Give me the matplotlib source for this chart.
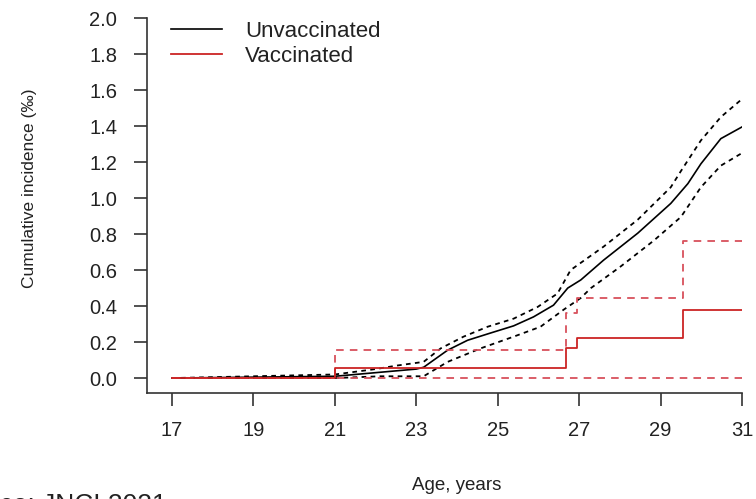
import matplotlib
matplotlib.use("Agg")
import matplotlib.pyplot as plt

plt.rcParams['font.family'] = ['Liberation Sans', 'DejaVu Sans']

# vaccinated (step function)
vac_age = [17, 21, 26.68, 26.95, 29.56, 31]
vac_est = [0, 0.055, 0.165, 0.22, 0.38, 0.38]
vac_hi = [0, 0.155, 0.36, 0.445, 0.76, 0.76]
vac_lo = [0, 0, 0, 0, 0, 0]

# unvaccinated
unvac_age = [17, 21, 21.5, 22, 22.5, 23, 23.18, 23.77, 24.26, 24.82, 25.39,
             25.88, 26.37, 26.72, 27.04, 27.6, 28.44, 29.25, 29.67, 29.99,
             30.48, 31.0]
unvac_est = [0, 0.01, 0.02, 0.03, 0.04, 0.05, 0.06, 0.155, 0.21, 0.25, 0.29,
             0.34, 0.405, 0.5, 0.545, 0.655, 0.805, 0.97, 1.08, 1.19, 1.33,
             1.395]
hi_age = [17, 21, 22, 22.54, 23.18, 23.6, 24.16, 24.75, 25.39, 25.98, 26.47,
          26.79, 27.6, 28.44, 29.25, 29.5, 29.99, 30.48, 31]
hi_val = [0, 0.02, 0.05, 0.07, 0.09, 0.165, 0.23, 0.285, 0.33, 0.395, 0.47,
          0.6, 0.73, 0.88, 1.06, 1.15, 1.32, 1.45, 1.55]
lo_age = [17, 21, 22.12, 23.18, 23.77, 24.58, 25.39, 26.05, 26.62, 27.04,
          27.29, 28.02, 28.84, 29.5, 29.99, 30.48, 31]
lo_val = [0, 0, 0.01, 0.01, 0.09, 0.165, 0.23, 0.285, 0.38, 0.445, 0.5,
          0.62, 0.765, 0.895, 1.06, 1.18, 1.25]

xticks = [17, 19, 21, 23, 25, 27, 29, 31]
yticks = [0.0, 0.2, 0.4, 0.6, 0.8, 1.0, 1.2, 1.4, 1.6, 1.8, 2.0]

red = '#cc2424'
red_d = '#d8505c'
txt = '#222222'

fig = plt.figure(figsize=(7.56, 4.99), dpi=100)
ax = fig.add_axes([0.1944, 0.2124, 0.7871, 0.7515])

ax.plot(hi_age, hi_val, color='black', lw=1.3, dashes=(2.6, 2.4))
ax.plot(lo_age, lo_val, color='black', lw=1.3, dashes=(2.6, 2.4))
ax.plot(unvac_age, unvac_est, color='black', lw=1.2, label='Unvaccinated')

ax.step(vac_age, vac_hi, where='post', color=red_d, lw=1.3, dashes=(4.2, 3.4))
ax.step(vac_age, vac_lo, where='post', color=red_d, lw=1.3, dashes=(4.2, 3.4))
ax.step(vac_age, vac_est, where='post', color=red, lw=1.3, label='Vaccinated')

ax.set_xlim(16.385, 31)
ax.set_ylim(-0.083, 2.0)
ax.set_xticks(xticks)
ax.set_yticks(yticks)
ax.set_yticklabels(['%.1f' % v for v in yticks])

for s in ['top', 'right']:
    ax.spines[s].set_visible(False)
for s in ['left', 'bottom']:
    ax.spines[s].set_color('#333333')
    ax.spines[s].set_linewidth(1.2)
ax.tick_params(axis='both', direction='out', length=9.4, width=1.2,
               color='#333333', labelsize=14.5, labelcolor=txt)
ax.tick_params(axis='y', pad=12)
ax.tick_params(axis='x', pad=11)

ax.legend(loc='upper left', bbox_to_anchor=(0.04, 0.993), frameon=False,
          fontsize=16, handlelength=2.3, handletextpad=1.05,
          labelspacing=0.2, borderpad=0, borderaxespad=0, labelcolor=txt)

fig.text(30 / 756, 1 - 188 / 499, 'Cumulative incidence (\u2030)', rotation=90,
         ha='center', va='center', fontsize=12.5, color=txt)
fig.text(457 / 756, 1 - 485 / 499, 'Age, years', ha='center', va='center',
         fontsize=13.5, color=txt)
fig.text(167 / 756, -0.026, 'Source: JNCI 2021', ha='right', va='baseline',
         fontsize=19, color=txt)

fig.savefig('out.png', dpi=100)
